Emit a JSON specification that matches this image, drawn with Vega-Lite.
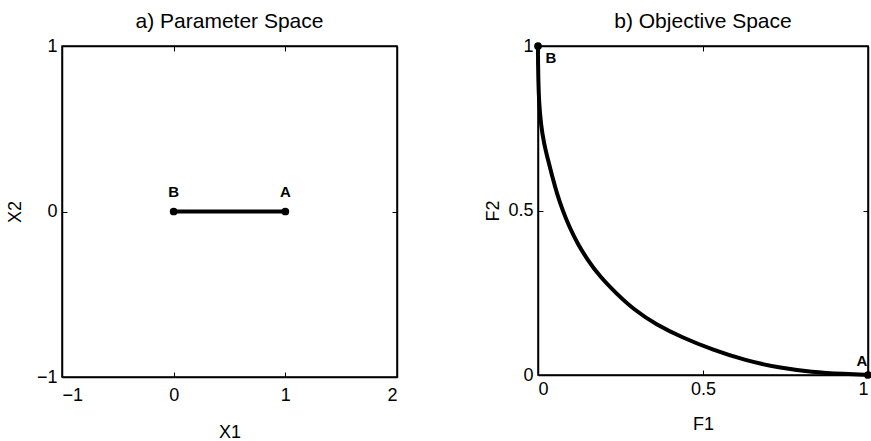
{
  "$schema": "https://vega.github.io/schema/vega-lite/v6.json",
  "padding": {"left": 5, "top": 10, "right": 0, "bottom": 0},
  "background": "white",
  "config": {
    "font": "Liberation Sans",
    "view": {"stroke": "black", "strokeWidth": 1.5},
    "axis": {
      "grid": false,
      "domainColor": "black",
      "domainWidth": 1.5,
      "tickColor": "black",
      "tickSize": -5,
      "tickWidth": 1,
      "labelFont": "Liberation Sans",
      "labelFontSize": 18,
      "labelColor": "black",
      "titleFont": "Liberation Sans",
      "titleFontSize": 18,
      "titleFontWeight": "normal",
      "titleColor": "black"
    },
    "title": {"font": "Liberation Sans", "fontSize": 21, "fontWeight": "normal", "color": "black", "offset": 5},
    "concat": {"spacing": 85}
  },
  "datasets": {
    "seg": [
      {"X1": 0, "X2": 0, "label": "B"},
      {"X1": 1, "X2": 0, "label": "A"}
    ],
    "front": [
      {"F1": 0.0, "F2": 1.0},
      {"F1": 0.0, "F2": 0.95},
      {"F1": 0.001, "F2": 0.9},
      {"F1": 0.003, "F2": 0.83},
      {"F1": 0.009, "F2": 0.76},
      {"F1": 0.018, "F2": 0.705},
      {"F1": 0.03, "F2": 0.655},
      {"F1": 0.043, "F2": 0.604},
      {"F1": 0.057, "F2": 0.553},
      {"F1": 0.074, "F2": 0.502},
      {"F1": 0.095, "F2": 0.45},
      {"F1": 0.119, "F2": 0.401},
      {"F1": 0.15, "F2": 0.35},
      {"F1": 0.187, "F2": 0.3},
      {"F1": 0.235, "F2": 0.25},
      {"F1": 0.291, "F2": 0.198},
      {"F1": 0.36, "F2": 0.152},
      {"F1": 0.435, "F2": 0.115},
      {"F1": 0.528, "F2": 0.077},
      {"F1": 0.629, "F2": 0.044},
      {"F1": 0.73, "F2": 0.022},
      {"F1": 0.83, "F2": 0.009},
      {"F1": 0.93, "F2": 0.003},
      {"F1": 1.0, "F2": 0.0}
    ],
    "ends": [
      {"F1": 0, "F2": 1, "label": "B"},
      {"F1": 1, "F2": 0, "label": "A"}
    ]
  },
  "hconcat": [
    {
      "width": 335,
      "height": 331,
      "title": {"text": "a) Parameter Space"},
      "layer": [
        {
          "data": {"name": "seg"},
          "encoding": {
            "x": {"field": "X1", "type": "quantitative", "scale": {"domain": [-1, 2], "nice": false, "zero": false},
                  "axis": {"orient": "bottom", "values": [-1, 0, 1, 2], "format": "~g", "title": "X1", "labelPadding": 14, "titlePadding": 19}},
            "y": {"field": "X2", "type": "quantitative", "scale": {"domain": [-1, 1], "nice": false, "zero": false},
                  "axis": {"orient": "left", "values": [-1, 0, 1], "format": "~g", "title": "X2", "labelPadding": 10, "titlePadding": 12}}
          },
          "layer": [
            {"mark": {"type": "line", "color": "black", "strokeWidth": 4}},
            {"mark": {"type": "point", "filled": true, "color": "black", "size": 60, "opacity": 1}},
            {"mark": {"type": "text", "fontSize": 15, "fontWeight": "bold", "color": "black", "dy": -20, "align": "center"},
             "encoding": {"text": {"field": "label"}}}
          ]
        },
        {
          "data": {"name": "seg"},
          "mark": {"type": "point", "opacity": 0},
          "encoding": {
            "x": {"field": "X1", "type": "quantitative", "scale": {"domain": [-1, 2], "nice": false, "zero": false},
                  "axis": {"orient": "top", "values": [-1, 0, 1, 2], "labels": false, "title": null}},
            "y": {"field": "X2", "type": "quantitative", "scale": {"domain": [-1, 1], "nice": false, "zero": false},
                  "axis": {"orient": "right", "values": [-1, 0, 1], "labels": false, "title": null}}
          }
        }
      ],
      "resolve": {"axis": {"x": "independent", "y": "independent"}}
    },
    {
      "width": 330,
      "height": 329,
      "title": {"text": "b) Objective Space"},
      "layer": [
        {
          "layer": [
            {
              "data": {"name": "front"},
              "mark": {"type": "line", "color": "black", "strokeWidth": 4, "interpolate": "basis"},
              "encoding": {
                "x": {"field": "F1", "type": "quantitative", "scale": {"domain": [0, 1], "nice": false},
                      "axis": {"orient": "bottom", "values": [0, 0.5, 1], "format": "~g", "title": "F1", "labelPadding": 10, "titlePadding": 17}},
                "y": {"field": "F2", "type": "quantitative", "scale": {"domain": [0, 1], "nice": false},
                      "axis": {"orient": "left", "values": [0, 0.5, 1], "format": "~g", "title": "F2", "labelPadding": 10, "titlePadding": 5}}
              }
            },
            {
              "data": {"name": "ends"},
              "mark": {"type": "point", "filled": true, "color": "black", "size": 60, "opacity": 1},
              "encoding": {
                "x": {"field": "F1", "type": "quantitative"},
                "y": {"field": "F2", "type": "quantitative"}
              }
            },
            {
              "data": {"name": "ends"},
              "transform": [{"filter": "datum.label == 'B'"}],
              "mark": {"type": "text", "fontSize": 15, "fontWeight": "bold", "color": "black", "dx": 13, "dy": 12, "align": "center", "baseline": "middle"},
              "encoding": {
                "x": {"field": "F1", "type": "quantitative"},
                "y": {"field": "F2", "type": "quantitative"},
                "text": {"field": "label"}
              }
            },
            {
              "data": {"name": "ends"},
              "transform": [{"filter": "datum.label == 'A'"}],
              "mark": {"type": "text", "fontSize": 15, "fontWeight": "bold", "color": "black", "dx": -6, "dy": -14, "align": "center", "baseline": "middle"},
              "encoding": {
                "x": {"field": "F1", "type": "quantitative"},
                "y": {"field": "F2", "type": "quantitative"},
                "text": {"field": "label"}
              }
            }
          ]
        },
        {
          "data": {"name": "ends"},
          "mark": {"type": "point", "opacity": 0},
          "encoding": {
            "x": {"field": "F1", "type": "quantitative", "scale": {"domain": [0, 1], "nice": false},
                  "axis": {"orient": "top", "values": [0, 0.5, 1], "labels": false, "title": null}},
            "y": {"field": "F2", "type": "quantitative", "scale": {"domain": [0, 1], "nice": false},
                  "axis": {"orient": "right", "values": [0, 0.5, 1], "labels": false, "title": null}}
          }
        }
      ],
      "resolve": {"axis": {"x": "independent", "y": "independent"}}
    }
  ]
}
